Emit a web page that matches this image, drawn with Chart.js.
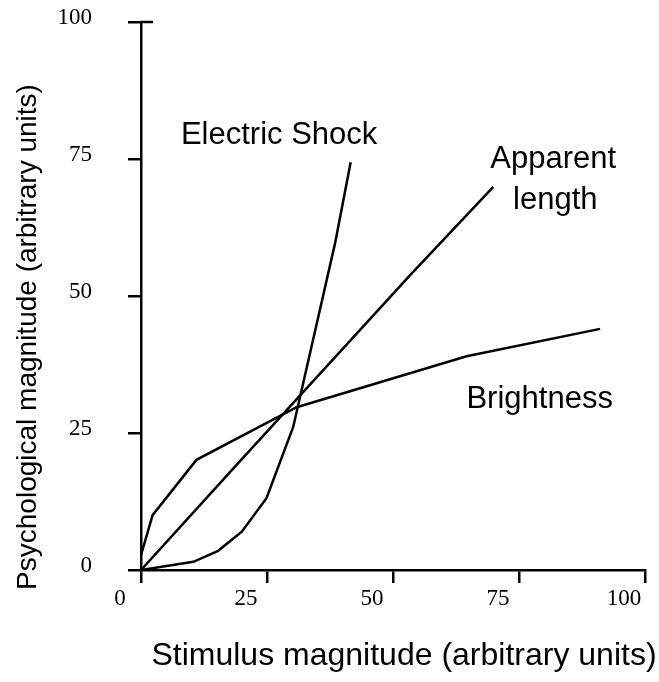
<!DOCTYPE html>
<html>
<head>
<meta charset="utf-8">
<script src="https://cdn.jsdelivr.net/npm/chart.js@4.4.1/dist/chart.umd.min.js"></script>
<style>
  html, body { margin: 0; padding: 0; background: #fff; }
  #wrap { width: 659px; height: 682px; }
</style>
</head>
<body>
<div id="wrap"><canvas id="myChart" width="659" height="682"></canvas></div>
<script>
// tick values
const xTicks = [0, 25, 50, 75, 100];
const yTicks = [0, 25, 50, 75, 100];

// curves
const shockX = [0, 10.4, 15.3, 20.0, 24.9, 30.2, 38.5, 41.6];
const shockY = [0, 1.5, 3.5, 7.0, 13.1, 26.1, 59.6, 74.4];

const lengthX = [0, 17.7, 53.4, 69.9];
const lengthY = [0, 17.9, 53.8, 69.9];

const brightX = [0, 2.3, 11.0, 30.9, 64.6, 91.1];
const brightY = [2.7, 10.0, 20.1, 29.7, 39.0, 44.0];

const xTitle = 'Stimulus magnitude (arbitrary units)';
const yTitle = 'Psychological magnitude (arbitrary units)';

// curve names written next to the lines, placed in data units
const curveLabels = [
  { text: 'Electric Shock', x: 27.4, y: 77.7 },
  { text: 'Apparent', x: 81.8, y: 73.4 },
  { text: 'length', x: 82.2, y: 65.9 },
  { text: 'Brightness', x: 79.1, y: 29.6 }
];

function pts(xs, ys) {
  return xs.map((x, i) => ({ x: x, y: ys[i] }));
}

function curve(label, xs, ys) {
  return {
    label: label,
    data: pts(xs, ys),
    showLine: true,
    pointRadius: 0,
    borderColor: '#000',
    backgroundColor: '#000',
    borderWidth: 2.5,
    tension: 0
  };
}

const serif = "'Liberation Serif', 'Times New Roman', serif";
const sans = "'Liberation Sans', Arial, sans-serif";

const textPlugin = {
  id: 'textPlugin',
  afterDraw(chart) {
    const c = chart.ctx;
    const xs = chart.scales.x, ys = chart.scales.y;
    c.save();
    c.fillStyle = '#000';
    c.font = '31px ' + sans;
    c.textAlign = 'center';
    c.textBaseline = 'alphabetic';
    curveLabels.forEach(l => {
      c.fillText(l.text, xs.getPixelForValue(l.x), ys.getPixelForValue(l.y));
    });
    // axis titles
    c.font = '32px ' + sans;
    c.fillText(xTitle, 404, 665);
    c.translate(28, 337);
    c.rotate(-Math.PI / 2);
    c.font = '28px ' + sans;
    c.textBaseline = 'middle';
    c.fillText(yTitle, 0, 0);
    c.restore();
    // little stub right of the top tick
    const yTop = ys.getPixelForValue(100);
    c.save();
    c.strokeStyle = '#000';
    c.lineWidth = 2.5;
    c.beginPath();
    c.moveTo(xs.left, yTop);
    c.lineTo(xs.left + 12, yTop);
    c.stroke();
    c.restore();
  }
};

const ctx = document.getElementById('myChart');

const myChart = new Chart(ctx, {
  type: 'scatter',
  data: {
    datasets: [
      curve('Electric Shock', shockX, shockY),
      curve('Apparent length', lengthX, lengthY),
      curve('Brightness', brightX, brightY)
    ]
  },
  options: {
    responsive: false,
    animation: false,
    layout: {
      padding: { top: 22, right: 14, left: 0, bottom: 0 }
    },
    plugins: {
      legend: { display: false },
      tooltip: { enabled: false }
    },
    scales: {
      x: {
        type: 'linear',
        position: 'bottom',
        min: 0,
        max: 100,
        afterBuildTicks: s => { s.ticks = xTicks.map(v => ({ value: v })); },
        afterFit: s => { s.height = 112; s.paddingLeft = 0; s.paddingRight = 0; },
        ticks: {
          color: '#000',
          font: { family: serif, size: 23 },
          padding: 2,
          labelOffset: -21,
          maxRotation: 0
        },
        grid: {
          display: true,
          drawOnChartArea: false,
          drawTicks: true,
          tickLength: 13,
          color: '#000',
          lineWidth: 2.5
        },
        border: { display: true, color: '#000', width: 2.5 }
      },
      y: {
        type: 'linear',
        position: 'left',
        min: 0,
        max: 100,
        afterBuildTicks: s => { s.ticks = yTicks.map(v => ({ value: v })); },
        afterFit: s => { s.width = 141; s.paddingTop = 0; s.paddingBottom = 0; },
        ticks: {
          color: '#000',
          font: { family: serif, size: 23 },
          padding: 36,
          labelOffset: -4
        },
        grid: {
          display: true,
          drawOnChartArea: false,
          drawTicks: true,
          tickLength: 13,
          color: '#000',
          lineWidth: 2.5
        },
        border: { display: true, color: '#000', width: 2.5 }
      }
    }
  },
  plugins: [textPlugin]
});
</script>
</body>
</html>
